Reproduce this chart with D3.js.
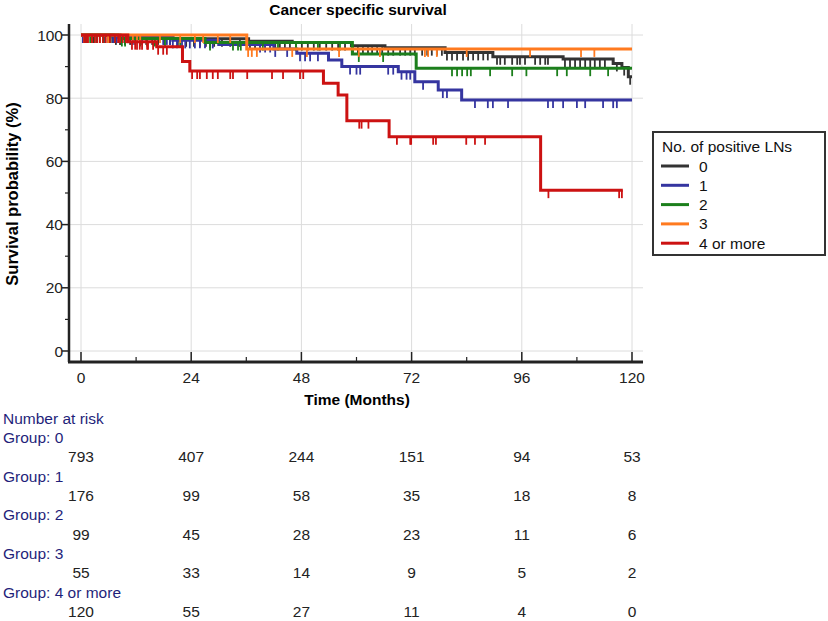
<!DOCTYPE html>
<html>
<head>
<meta charset="utf-8">
<script src="https://cdn.jsdelivr.net/npm/d3@7"></script>
<style>
  body { margin: 0; background: #fff; }
  svg { font-family: "Liberation Sans", Arial, sans-serif; }
  .grid line { stroke: #dcdcdc; stroke-width: 1; }
  .risk { fill: #1f1f7a; font-size: 15.5px; }
  .riskNum { fill: #222; font-size: 15.5px; text-anchor: middle; }
</style>
</head>
<body>
<div id="chart"></div>
<script>
// Groups and colours
var groups = ["0", "1", "2", "3", "4 or more"];
var colors = ["#333333", "#3535a0", "#1c7f1c", "#ff7a1f", "#cc1212"];

// Kaplan-Meier steps [month, survival %]
var steps0 = [[0, 100], [7, 99.4], [20, 98.8], [36.5, 98.0], [46, 97.6], [58.9, 96.6], [66.2, 96.0],
  [79.3, 94.5], [89.7, 93.1], [105, 92.4], [115.9, 91.0], [117.8, 89.7], [119.2, 86.8]];
var steps1 = [[0, 100], [8, 99.4], [20, 98.3], [30, 97.0], [42, 95.6], [47, 94.2], [53.9, 92.1],
  [56.8, 90.0], [69.1, 88.4], [72.7, 85.2], [77.8, 82.6], [82.9, 79.4]];
var steps2 = [[0, 100], [8.5, 98.9], [27, 97.6], [59.1, 94.0], [73, 89.5]];
var steps3 = [[0, 100], [36.1, 95.6]];
var steps4 = [[0, 100], [10.2, 97.9], [16.5, 96.3], [22.1, 91.6], [23.7, 88.6], [52.8, 84.7],
  [56.0, 81.0], [57.9, 72.9], [67.1, 67.8], [100.1, 50.9]];

// last follow-up of each group
var endTimes = [120, 120, 120, 120, 118];

// censored observations (months)
var censor0 = [0.7, 1.1, 1.5, 2.2, 2.8, 3.5, 4.1, 5.0, 5.9, 6.8, 7.6, 8.5, 9.6, 10.7, 11.8, 12.9, 14.2,
  15.5, 16.8, 18.1, 19.4, 21.1, 22.9, 24.6, 25.9, 27.2, 29.0, 30.7, 32.5, 34.6, 36.8, 37.9, 39.0, 40.1,
  41.2, 42.3, 43.3, 44.4, 45.5, 46.8, 48.1, 49.4, 50.7, 52.0, 53.4, 54.7, 56.0, 57.5, 59.2, 60.3, 61.4,
  62.5, 63.4, 64.5, 65.6, 66.9, 68.0, 69.5, 70.6, 71.7, 72.7, 74.3, 75.4, 76.4, 77.5, 78.6, 79.7, 80.8,
  81.9, 83.2, 84.3, 85.4, 86.5, 87.6, 88.6, 90.6, 91.3, 92.3, 93.9, 95.0, 95.6, 96.7, 98.9, 100.0,
  101.1, 101.7, 105.4, 106.5, 107.6, 108.7, 109.8, 110.9, 111.9, 113.0, 114.1, 116.7, 118.3, 119.6];
var censor1 = [0.4, 1.5, 7.0, 7.8, 11.3, 13.3, 16.1, 17.9, 18.7, 19.4, 20.0, 20.9, 22.0, 22.7, 23.7,
  24.8, 25.9, 27.0, 28.1, 28.7, 39.0, 40.1, 41.2, 42.3, 44.9, 47.7, 48.8, 49.9, 51.6, 58.6, 60.0, 60.8,
  66.9, 68.0, 69.8, 70.9, 71.7, 74.5, 78.8, 79.7, 85.8, 88.6, 89.7, 93.0, 101.7, 102.8, 105.0, 108.0,
  109.8, 113.7, 115.9, 116.7];
var censor2 = [0.9, 2.0, 3.0, 4.8, 6.3, 7.4, 8.9, 9.6, 12.9, 14.4, 16.1, 18.3, 21.6, 28.1, 33.1, 34.2,
  34.8, 39.6, 42.9, 46.8, 51.6, 56.4, 60.5, 65.8, 80.8, 81.9, 83.0, 84.1, 84.9, 89.1, 93.9, 97.0,
  103.7, 105.8, 110.9, 114.8];
var censor3 = [0.7, 1.5, 2.4, 4.1, 5.9, 8.5, 11.3, 12.2, 12.9, 17.2, 21.6, 24.8, 26.6, 29.8, 32.5,
  36.4, 37.2, 38.3, 46.0, 49.2, 56.2, 60.5, 65.1, 74.9, 75.6, 77.5, 84.0, 97.8, 108.9, 111.8];
var censor4 = [0.7, 1.1, 1.5, 2.4, 3.0, 3.5, 4.1, 4.8, 5.4, 6.3, 7.4, 8.1, 8.5, 9.1, 9.8, 11.1, 11.8,
  12.2, 12.8, 13.3, 14.4, 14.6, 15.7, 16.8, 17.9, 18.7, 24.2, 25.3, 25.9, 27.4, 28.7, 29.8, 32.5,
  33.1, 36.2, 41.6, 44.0, 47.7, 48.4, 60.6, 61.1, 62.6, 68.8, 71.7, 71.9, 76.7, 77.3, 83.9, 85.8,
  88.0, 101.8, 117.2, 117.8];

// Number at risk
var riskTimes = [0, 24, 48, 72, 96, 120];
var risk0 = [793, 407, 244, 151, 94, 53];
var risk1 = [176, 99, 58, 35, 18, 8];
var risk2 = [99, 45, 28, 23, 11, 6];
var risk3 = [55, 33, 14, 9, 5, 2];
var risk4 = [120, 55, 27, 11, 4, 0];

var xTicks = [0, 24, 48, 72, 96, 120];
var xMinor = [12, 36, 60, 84, 108];
var yTicks = [0, 20, 40, 60, 80, 100];
var yMinor = [10, 30, 50, 70, 90];

var allSteps = [steps0, steps1, steps2, steps3, steps4];
var allCensor = [censor0, censor1, censor2, censor3, censor4];
var allRisk = [risk0, risk1, risk2, risk3, risk4];

var width = 828;
var height = 621;
var frameLeft = 69;
var frameRight = 643;
var frameTop = 24;
var frameBottom = 362;
var fs = 15.5;

var svg = d3.select("#chart")
  .append("svg")
  .attr("width", width)
  .attr("height", height);

var xScale = d3.scaleLinear().domain([0, 120]).range([81, 632]);
var yScale = d3.scaleLinear().domain([0, 100]).range([351, 35]);

// Grid
var grid = svg.append("g").attr("class", "grid");
grid.selectAll(".vg").data(xTicks).enter().append("line")
  .attr("x1", d => xScale(d)).attr("x2", d => xScale(d))
  .attr("y1", frameTop).attr("y2", frameBottom);
grid.selectAll(".hg").data(yTicks).enter().append("line")
  .attr("x1", frameLeft).attr("x2", frameRight)
  .attr("y1", d => yScale(d)).attr("y2", d => yScale(d));

// Axes
var axisG = svg.append("g");
axisG.append("line")
  .attr("x1", frameLeft).attr("x2", frameLeft)
  .attr("y1", frameTop).attr("y2", frameBottom)
  .attr("stroke", "#222").attr("stroke-width", 2.5);
axisG.append("line")
  .attr("x1", frameLeft - 1).attr("x2", frameRight)
  .attr("y1", frameBottom).attr("y2", frameBottom)
  .attr("stroke", "#222").attr("stroke-width", 3);

axisG.selectAll(".yt").data(yTicks).enter().append("line")
  .attr("x1", frameLeft - 7).attr("x2", frameLeft)
  .attr("y1", d => yScale(d)).attr("y2", d => yScale(d))
  .attr("stroke", "#222").attr("stroke-width", 1.5);
axisG.selectAll(".ym").data(yMinor).enter().append("line")
  .attr("x1", frameLeft - 4).attr("x2", frameLeft)
  .attr("y1", d => yScale(d)).attr("y2", d => yScale(d))
  .attr("stroke", "#222").attr("stroke-width", 1.2);
axisG.selectAll(".yl").data(yTicks).enter().append("text")
  .attr("x", frameLeft - 6).attr("y", d => yScale(d) + 5.5)
  .attr("text-anchor", "end").attr("font-size", fs).attr("fill", "#222")
  .text(d => d);

axisG.selectAll(".xt").data(xTicks).enter().append("line")
  .attr("x1", d => xScale(d)).attr("x2", d => xScale(d))
  .attr("y1", frameBottom - 10).attr("y2", frameBottom)
  .attr("stroke", "#222").attr("stroke-width", 1.5);
axisG.selectAll(".xm").data(xMinor).enter().append("line")
  .attr("x1", d => xScale(d)).attr("x2", d => xScale(d))
  .attr("y1", frameBottom - 5).attr("y2", frameBottom)
  .attr("stroke", "#222").attr("stroke-width", 1.2);
axisG.selectAll(".xl").data(xTicks).enter().append("text")
  .attr("x", d => xScale(d)).attr("y", 383)
  .attr("text-anchor", "middle").attr("font-size", fs).attr("fill", "#222")
  .text(d => d);

// Titles
svg.append("text")
  .attr("x", 358).attr("y", 15)
  .attr("text-anchor", "middle").attr("font-size", fs).attr("font-weight", "bold")
  .text("Cancer specific survival");
svg.append("text")
  .attr("x", 357).attr("y", 405)
  .attr("text-anchor", "middle").attr("font-size", fs).attr("font-weight", "bold")
  .text("Time (Months)");
svg.append("text")
  .attr("transform", "translate(18,194)rotate(-90)")
  .attr("text-anchor", "middle").attr("font-size", 16.5).attr("font-weight", "bold")
  .text("Survival probability (%)");

// survival at time t from a step list
function survAt(steps, t) {
  var s = steps[0][1];
  steps.forEach(function(p) { if (p[0] <= t) s = p[1]; });
  return s;
}

var line = d3.line()
  .x(d => xScale(d[0]))
  .y(d => yScale(d[1]))
  .curve(d3.curveStepAfter);

var curves = svg.append("g");
allSteps.forEach(function(steps, i) {
  var pts = steps.concat([[endTimes[i], steps[steps.length - 1][1]]]);
  var g = curves.append("g");
  g.append("path")
    .attr("d", line(pts))
    .attr("fill", "none")
    .attr("stroke", colors[i])
    .attr("stroke-width", 3);
  g.selectAll("line").data(allCensor[i]).enter().append("line")
    .attr("x1", d => xScale(d)).attr("x2", d => xScale(d))
    .attr("y1", d => yScale(survAt(steps, d)))
    .attr("y2", d => yScale(survAt(steps, d)) + 8)
    .attr("stroke", colors[i])
    .attr("stroke-width", 1.8);
});

// Legend
var legend = svg.append("g");
legend.append("rect")
  .attr("x", 653).attr("y", 132).attr("width", 172).attr("height", 123)
  .attr("fill", "#fff").attr("stroke", "#333").attr("stroke-width", 2);
legend.append("text")
  .attr("x", 662).attr("y", 152).attr("font-size", fs).attr("fill", "#111")
  .text("No. of positive LNs");
groups.forEach(function(g, i) {
  var cy = 166 + i * 19.3;
  legend.append("line")
    .attr("x1", 661).attr("x2", 689).attr("y1", cy).attr("y2", cy)
    .attr("stroke", colors[i]).attr("stroke-width", 3);
  legend.append("text")
    .attr("x", 699).attr("y", cy + 5.5).attr("font-size", fs).attr("fill", "#111")
    .text(g);
});

// Number at risk table
var table = svg.append("g");
table.append("text").attr("class", "risk").attr("x", 3).attr("y", 424).text("Number at risk");
allRisk.forEach(function(row, i) {
  var base = 443 + i * 38.7;
  table.append("text").attr("class", "risk").attr("x", 3).attr("y", base).text("Group: " + groups[i]);
  table.selectAll(".r" + i).data(row).enter().append("text")
    .attr("class", "riskNum")
    .attr("x", (d, j) => xScale(riskTimes[j]))
    .attr("y", base + 19.3)
    .text(d => d);
});
</script>
</body>
</html>
